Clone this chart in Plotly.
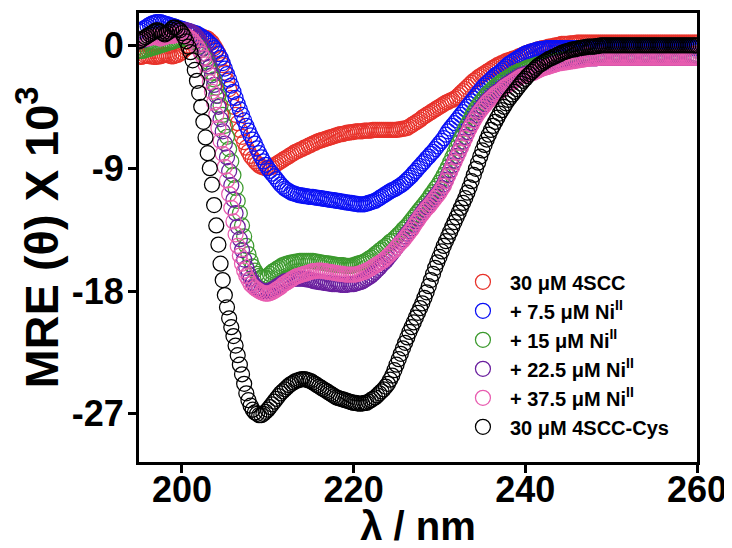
import plotly.graph_objects as go

# ---------------- data ----------------
# wavelength grid: 195.00 ... 260.00 nm in 0.25 nm steps (261 points)
wavelength_nm = [195.0 + 0.25 * i for i in range(261)]

mre_4scc = [
    -0.8, -0.85, -0.8, -0.75, -0.75, -0.8, -0.8, -0.85, -0.85, -0.8, -0.8, -0.75, -0.7, -0.7, -0.75, -0.8, -0.8, -0.75, -0.7, -0.6,
    -0.5, -0.35, -0.2, 0.0, 0.2, 0.35, 0.5, 0.55, 0.6, 0.65, 0.6, 0.55, 0.5, 0.35, 0.2, -0.05, -0.3, -0.6, -1.0, -1.45,
    -2.0, -2.6, -3.2, -3.85, -4.5, -5.1, -5.7, -6.2, -6.7, -7.1, -7.5, -7.8, -8.1, -8.3, -8.5, -8.65, -8.8, -8.9, -8.95, -9.0,
    -9.0, -8.95, -8.9, -8.8, -8.7, -8.6, -8.5, -8.4, -8.3, -8.2, -8.1, -8.0, -7.9, -7.8, -7.75, -7.65, -7.6, -7.5, -7.45, -7.35,
    -7.3, -7.2, -7.15, -7.05, -7.0, -6.95, -6.9, -6.85, -6.8, -6.75, -6.7, -6.65, -6.6, -6.55, -6.5, -6.5, -6.45, -6.4, -6.4, -6.35,
    -6.35, -6.3, -6.3, -6.3, -6.3, -6.25, -6.25, -6.25, -6.25, -6.2, -6.2, -6.2, -6.2, -6.2, -6.2, -6.2, -6.2, -6.2, -6.2, -6.2,
    -6.2, -6.15, -6.15, -6.1, -6.1, -6.05, -5.95, -5.85, -5.75, -5.65, -5.55, -5.45, -5.3, -5.2, -5.1, -5.0, -4.9, -4.8, -4.7, -4.6,
    -4.5, -4.4, -4.3, -4.2, -4.15, -4.05, -4.0, -3.9, -3.8, -3.65, -3.5, -3.35, -3.2, -3.05, -2.9, -2.75, -2.6, -2.5, -2.35, -2.25,
    -2.15, -2.05, -1.95, -1.85, -1.75, -1.65, -1.55, -1.45, -1.4, -1.3, -1.25, -1.15, -1.1, -1.05, -1.0, -0.95, -0.9, -0.8, -0.75, -0.7,
    -0.6, -0.55, -0.5, -0.45, -0.4, -0.35, -0.3, -0.25, -0.2, -0.2, -0.15, -0.1, -0.1, -0.05, 0.0, 0.0, 0.05, 0.1, 0.1, 0.1,
    0.1, 0.15, 0.15, 0.15, 0.2, 0.2, 0.2, 0.2, 0.2, 0.2, 0.2, 0.2, 0.2, 0.2, 0.2, 0.2, 0.2, 0.2, 0.2, 0.2,
    0.2, 0.2, 0.2, 0.2, 0.2, 0.2, 0.2, 0.2, 0.2, 0.2, 0.2, 0.2, 0.2, 0.2, 0.2, 0.2, 0.2, 0.2, 0.2, 0.2,
    0.2, 0.2, 0.2, 0.2, 0.2, 0.2, 0.2, 0.2, 0.2, 0.2, 0.2, 0.2, 0.2, 0.2, 0.2, 0.2, 0.2, 0.2, 0.2, 0.2,
    0.2,
]

mre_ni_7_5 = [
    1.0, 1.1, 1.2, 1.3, 1.4, 1.5, 1.6, 1.65, 1.7, 1.7, 1.7, 1.65, 1.6, 1.55, 1.5, 1.45, 1.4, 1.35, 1.3, 1.25,
    1.2, 1.15, 1.1, 1.05, 1.0, 0.95, 0.9, 0.85, 0.75, 0.65, 0.55, 0.45, 0.3, 0.15, 0.0, -0.2, -0.4, -0.65, -0.9, -1.3,
    -1.7, -2.1, -2.5, -2.95, -3.4, -3.85, -4.3, -4.7, -5.1, -5.5, -5.9, -6.25, -6.6, -6.9, -7.2, -7.55, -7.9, -8.2, -8.5, -8.75,
    -9.0, -9.2, -9.4, -9.6, -9.8, -10.0, -10.2, -10.35, -10.5, -10.6, -10.7, -10.8, -10.85, -10.9, -10.95, -11.0, -11.0, -11.05, -11.05, -11.1,
    -11.1, -11.1, -11.15, -11.15, -11.2, -11.2, -11.25, -11.25, -11.3, -11.3, -11.35, -11.35, -11.4, -11.4, -11.45, -11.45, -11.5, -11.5, -11.55, -11.55,
    -11.6, -11.6, -11.65, -11.65, -11.65, -11.65, -11.6, -11.55, -11.5, -11.45, -11.4, -11.3, -11.2, -11.1, -11.0, -10.9, -10.8, -10.7, -10.6, -10.55,
    -10.45, -10.35, -10.25, -10.15, -10.0, -9.85, -9.7, -9.55, -9.35, -9.2, -9.0, -8.85, -8.65, -8.5, -8.3, -8.15, -7.95, -7.8, -7.6, -7.4,
    -7.2, -7.0, -6.8, -6.55, -6.3, -6.1, -5.9, -5.7, -5.5, -5.3, -5.1, -4.9, -4.7, -4.5, -4.3, -4.1, -3.9, -3.7, -3.5, -3.3,
    -3.1, -2.95, -2.8, -2.65, -2.5, -2.35, -2.2, -2.1, -2.0, -1.85, -1.7, -1.55, -1.4, -1.3, -1.2, -1.1, -1.0, -0.9, -0.8, -0.7,
    -0.6, -0.55, -0.5, -0.45, -0.4, -0.35, -0.3, -0.3, -0.25, -0.25, -0.2, -0.2, -0.2, -0.2, -0.2, -0.2, -0.2, -0.2, -0.2, -0.2,
    -0.2, -0.2, -0.2, -0.2, -0.2, -0.2, -0.2, -0.2, -0.2, -0.2, -0.2, -0.2, -0.2, -0.2, -0.2, -0.2, -0.2, -0.2, -0.2, -0.2,
    -0.2, -0.2, -0.2, -0.2, -0.2, -0.2, -0.2, -0.2, -0.2, -0.2, -0.2, -0.2, -0.2, -0.2, -0.2, -0.2, -0.2, -0.2, -0.2, -0.2,
    -0.2, -0.2, -0.2, -0.2, -0.2, -0.2, -0.2, -0.2, -0.2, -0.2, -0.2, -0.2, -0.2, -0.2, -0.2, -0.2, -0.2, -0.2, -0.2, -0.2,
    -0.2,
]

mre_ni_15 = [
    -0.4, -0.4, -0.4, -0.35, -0.3, -0.25, -0.2, -0.15, -0.1, -0.05, 0.0, 0.05, 0.1, 0.15, 0.2, 0.25, 0.3, 0.35, 0.4, 0.45,
    0.5, 0.5, 0.5, 0.45, 0.4, 0.3, 0.2, 0.05, -0.1, -0.35, -0.6, -0.9, -1.2, -1.6, -2.0, -2.5, -3.1, -3.7, -4.4, -5.1,
    -5.9, -6.7, -7.6, -8.5, -9.5, -10.45, -11.4, -12.3, -13.2, -14.0, -14.7, -15.3, -15.8, -16.2, -16.5, -16.75, -16.9, -17.0, -17.0, -17.0,
    -16.9, -16.75, -16.6, -16.5, -16.4, -16.3, -16.2, -16.1, -16.05, -16.0, -15.95, -15.9, -15.9, -15.85, -15.85, -15.8, -15.8, -15.8, -15.8, -15.8,
    -15.8, -15.8, -15.85, -15.85, -15.9, -15.9, -15.95, -15.95, -16.0, -16.0, -16.05, -16.05, -16.1, -16.1, -16.1, -16.1, -16.15, -16.15, -16.15, -16.15,
    -16.1, -16.05, -16.0, -15.95, -15.9, -15.85, -15.75, -15.65, -15.55, -15.45, -15.3, -15.2, -15.05, -14.95, -14.8, -14.7, -14.55, -14.4, -14.3, -14.15,
    -14.0, -13.85, -13.7, -13.5, -13.35, -13.2, -13.0, -12.8, -12.6, -12.4, -12.2, -12.0, -11.8, -11.6, -11.4, -11.2, -10.95, -10.75, -10.5, -10.3,
    -10.05, -9.8, -9.5, -9.2, -8.9, -8.55, -8.2, -7.85, -7.5, -7.15, -6.8, -6.45, -6.1, -5.8, -5.5, -5.2, -4.9, -4.65, -4.4, -4.2,
    -4.0, -3.8, -3.6, -3.45, -3.3, -3.15, -3.0, -2.9, -2.8, -2.65, -2.55, -2.45, -2.35, -2.25, -2.15, -2.05, -2.0, -1.9, -1.85, -1.8,
    -1.7, -1.65, -1.6, -1.55, -1.5, -1.45, -1.4, -1.35, -1.3, -1.3, -1.25, -1.25, -1.2, -1.2, -1.15, -1.15, -1.1, -1.1, -1.05, -1.05,
    -1.0, -1.0, -1.0, -1.0, -0.95, -0.95, -0.95, -0.95, -0.9, -0.9, -0.9, -0.9, -0.9, -0.9, -0.9, -0.9, -0.9, -0.9, -0.9, -0.9,
    -0.9, -0.9, -0.9, -0.9, -0.9, -0.9, -0.9, -0.9, -0.9, -0.9, -0.9, -0.9, -0.9, -0.9, -0.9, -0.9, -0.9, -0.9, -0.9, -0.9,
    -0.9, -0.9, -0.9, -0.9, -0.9, -0.9, -0.9, -0.9, -0.9, -0.9, -0.9, -0.9, -0.9, -0.9, -0.9, -0.9, -0.9, -0.9, -0.9, -0.9,
    -0.9,
]

mre_ni_22_5 = [
    0.3, 0.35, 0.4, 0.45, 0.5, 0.55, 0.6, 0.65, 0.7, 0.75, 0.8, 0.8, 0.8, 0.85, 0.9, 0.95, 1.0, 1.05, 1.1, 1.1,
    1.1, 1.1, 1.1, 1.05, 1.0, 0.9, 0.8, 0.6, 0.4, 0.1, -0.2, -0.6, -1.0, -1.55, -2.2, -2.9, -3.7, -4.5, -5.4, -6.3,
    -7.2, -8.2, -9.2, -10.25, -11.3, -12.3, -13.3, -14.2, -15.0, -15.7, -16.3, -16.75, -17.1, -17.4, -17.6, -17.75, -17.9, -17.95, -18.0, -18.0,
    -18.0, -17.95, -17.9, -17.8, -17.7, -17.6, -17.5, -17.4, -17.3, -17.25, -17.2, -17.15, -17.1, -17.1, -17.1, -17.1, -17.1, -17.1, -17.15, -17.15,
    -17.2, -17.25, -17.3, -17.3, -17.35, -17.35, -17.4, -17.4, -17.45, -17.45, -17.5, -17.5, -17.5, -17.5, -17.55, -17.55, -17.55, -17.55, -17.5, -17.5,
    -17.5, -17.45, -17.4, -17.35, -17.3, -17.2, -17.1, -17.0, -16.9, -16.75, -16.6, -16.45, -16.3, -16.1, -15.95, -15.8, -15.6, -15.4, -15.2, -15.0,
    -14.8, -14.6, -14.4, -14.2, -14.0, -13.8, -13.6, -13.4, -13.15, -12.9, -12.7, -12.5, -12.25, -12.05, -11.85, -11.7, -11.5, -11.3, -11.1, -10.9,
    -10.7, -10.45, -10.2, -9.85, -9.5, -9.15, -8.8, -8.45, -8.1, -7.75, -7.4, -7.05, -6.7, -6.35, -6.0, -5.7, -5.4, -5.15, -4.9, -4.7,
    -4.5, -4.3, -4.1, -3.95, -3.8, -3.65, -3.5, -3.4, -3.3, -3.15, -3.0, -2.9, -2.8, -2.7, -2.6, -2.5, -2.4, -2.3, -2.2, -2.15,
    -2.1, -2.05, -2.0, -1.95, -1.9, -1.8, -1.75, -1.65, -1.6, -1.55, -1.5, -1.45, -1.4, -1.35, -1.3, -1.25, -1.2, -1.2, -1.15, -1.1,
    -1.1, -1.1, -1.05, -1.05, -1.0, -1.0, -1.0, -1.0, -0.95, -0.95, -0.95, -0.95, -0.95, -0.95, -0.9, -0.9, -0.9, -0.9, -0.9, -0.9,
    -0.9, -0.9, -0.9, -0.9, -0.9, -0.9, -0.9, -0.9, -0.9, -0.9, -0.9, -0.9, -0.9, -0.9, -0.9, -0.9, -0.9, -0.9, -0.9, -0.9,
    -0.9, -0.9, -0.9, -0.9, -0.9, -0.9, -0.9, -0.9, -0.9, -0.9, -0.9, -0.9, -0.9, -0.9, -0.9, -0.9, -0.9, -0.9, -0.9, -0.9,
    -0.9,
]

mre_ni_37_5 = [
    0.4, 0.45, 0.5, 0.5, 0.5, 0.55, 0.6, 0.6, 0.6, 0.55, 0.5, 0.55, 0.6, 0.65, 0.7, 0.7, 0.7, 0.75, 0.8, 0.8,
    0.8, 0.75, 0.7, 0.6, 0.5, 0.35, 0.15, -0.05, -0.3, -0.6, -0.9, -1.4, -2.0, -2.7, -3.4, -4.2, -5.1, -6.05, -7.0, -7.95,
    -8.9, -9.9, -10.9, -11.9, -12.9, -13.85, -14.7, -15.4, -16.0, -16.5, -16.9, -17.2, -17.5, -17.65, -17.8, -17.9, -18.0, -18.1, -18.15, -18.2,
    -18.2, -18.15, -18.1, -18.0, -17.9, -17.8, -17.7, -17.55, -17.45, -17.35, -17.25, -17.15, -17.05, -16.95, -16.9, -16.85, -16.8, -16.75, -16.7, -16.65,
    -16.6, -16.55, -16.55, -16.5, -16.5, -16.5, -16.55, -16.55, -16.6, -16.6, -16.65, -16.65, -16.7, -16.7, -16.75, -16.75, -16.8, -16.8, -16.8, -16.8,
    -16.8, -16.8, -16.75, -16.7, -16.65, -16.6, -16.5, -16.45, -16.35, -16.25, -16.15, -16.05, -15.95, -15.85, -15.75, -15.6, -15.45, -15.3, -15.15, -15.0,
    -14.8, -14.6, -14.45, -14.3, -14.1, -13.9, -13.7, -13.5, -13.25, -13.0, -12.8, -12.55, -12.35, -12.15, -11.95, -11.8, -11.6, -11.4, -11.2, -11.0,
    -10.8, -10.55, -10.3, -9.95, -9.6, -9.25, -8.9, -8.55, -8.2, -7.85, -7.5, -7.15, -6.8, -6.45, -6.1, -5.8, -5.5, -5.25, -5.0, -4.8,
    -4.6, -4.4, -4.2, -4.05, -3.9, -3.75, -3.6, -3.5, -3.4, -3.25, -3.1, -3.0, -2.9, -2.8, -2.7, -2.6, -2.5, -2.4, -2.3, -2.25,
    -2.2, -2.15, -2.1, -2.05, -2.0, -1.9, -1.85, -1.75, -1.7, -1.65, -1.6, -1.55, -1.5, -1.45, -1.4, -1.35, -1.3, -1.3, -1.25, -1.25,
    -1.2, -1.2, -1.15, -1.15, -1.1, -1.1, -1.05, -1.05, -1.0, -1.0, -0.95, -0.95, -0.95, -0.95, -0.9, -0.9, -0.9, -0.9, -0.9, -0.9,
    -0.9, -0.9, -0.9, -0.9, -0.9, -0.9, -0.9, -0.9, -0.9, -0.9, -0.9, -0.9, -0.9, -0.9, -0.9, -0.9, -0.9, -0.9, -0.9, -0.9,
    -0.9, -0.9, -0.9, -0.9, -0.9, -0.9, -0.9, -0.9, -0.9, -0.9, -0.9, -0.9, -0.9, -0.9, -0.9, -0.9, -0.9, -0.9, -0.9, -0.9,
    -0.9,
]

mre_4scc_cys = [
    0.3, 0.4, 0.5, 0.6, 0.7, 0.8, 0.9, 1.0, 1.1, 1.1, 1.0, 0.9, 0.8, 0.9, 1.0, 1.15, 1.3, 1.3, 1.2, 1.1,
    0.9, 0.65, 0.3, -0.1, -0.5, -1.1, -1.8, -2.6, -3.5, -4.5, -5.6, -6.75, -7.9, -9.0, -10.2, -11.7, -13.2, -14.6, -16.0, -17.2,
    -18.3, -19.2, -20.0, -20.65, -21.3, -22.0, -22.7, -23.4, -24.1, -24.8, -25.5, -26.0, -26.4, -26.7, -26.9, -27.0, -27.1, -27.1, -27.0, -26.85,
    -26.7, -26.5, -26.3, -26.1, -25.9, -25.7, -25.5, -25.35, -25.2, -25.05, -24.9, -24.8, -24.7, -24.6, -24.55, -24.5, -24.45, -24.45, -24.5, -24.55,
    -24.6, -24.7, -24.8, -24.9, -25.0, -25.1, -25.2, -25.3, -25.4, -25.5, -25.6, -25.7, -25.8, -25.85, -25.9, -25.95, -26.0, -26.05, -26.1, -26.15,
    -26.2, -26.2, -26.25, -26.25, -26.25, -26.2, -26.2, -26.1, -26.0, -25.9, -25.8, -25.65, -25.5, -25.35, -25.2, -25.0, -24.8, -24.5, -24.2, -23.8,
    -23.4, -23.0, -22.6, -22.2, -21.8, -21.4, -21.0, -20.65, -20.3, -19.95, -19.6, -19.25, -18.9, -18.5, -18.1, -17.65, -17.2, -16.75, -16.3, -15.9,
    -15.5, -15.1, -14.7, -14.35, -14.0, -13.65, -13.3, -12.95, -12.6, -12.25, -11.9, -11.55, -11.2, -10.8, -10.4, -9.95, -9.5, -9.05, -8.6, -8.15,
    -7.7, -7.3, -6.9, -6.55, -6.2, -5.9, -5.6, -5.3, -5.0, -4.75, -4.5, -4.25, -4.0, -3.8, -3.6, -3.4, -3.2, -3.0, -2.8, -2.6,
    -2.45, -2.25, -2.1, -1.95, -1.8, -1.65, -1.5, -1.4, -1.3, -1.2, -1.1, -1.0, -0.95, -0.85, -0.8, -0.7, -0.65, -0.55, -0.5, -0.45,
    -0.4, -0.35, -0.3, -0.3, -0.25, -0.2, -0.2, -0.15, -0.15, -0.1, -0.1, -0.1, -0.1, -0.05, -0.05, 0.0, 0.0, 0.0, 0.0, 0.0,
    0.0, 0.0, 0.0, 0.0, 0.0, 0.0, 0.0, 0.0, 0.0, 0.0, 0.0, 0.0, 0.0, 0.0, 0.0, 0.0, 0.0, 0.0, 0.0, 0.0,
    0.0, 0.0, 0.0, 0.0, 0.0, 0.0, 0.0, 0.0, 0.0, 0.0, 0.0, 0.0, 0.0, 0.0, 0.0, 0.0, 0.0, 0.0, 0.0, 0.0,
    0.0,
]

series_values = [mre_4scc, mre_ni_7_5, mre_ni_15, mre_ni_22_5, mre_ni_37_5, mre_4scc_cys]
series_names = [
    "30 μM 4SCC",
    "+ 7.5 μM Ni<sup>II</sup>",
    "+ 15 μM Ni<sup>II</sup>",
    "+ 22.5 μM Ni<sup>II</sup>",
    "+ 37.5 μM Ni<sup>II</sup>",
    "30 μM 4SCC-Cys",
]
series_colors = ["#E8322A", "#0A10F5", "#3C9A2E", "#6A1F9E", "#E85DB0", "#000000"]

x_tick_vals = [200, 220, 240, 260]
x_tick_text = ["200", "220", "240", "260"]
y_tick_vals = [0, -9, -18, -27]
y_tick_text = ["0", "-9", "-18", "-27"]

for vals in series_values:
    assert len(vals) == len(wavelength_nm), len(vals)

# ---------------- figure ----------------
FONT = "Liberation Sans, Arial, Helvetica, sans-serif"

fig = go.Figure()
for name, vals, color in zip(series_names, series_values, series_colors):
    fig.add_trace(go.Scatter(
        x=wavelength_nm, y=vals, mode="markers", name=name,
        marker=dict(symbol="circle-open", size=15, color=color,
                    line=dict(width=1.25, color=color)),
    ))

# the page body adds an 8 px offset, so the figure is 8 px smaller than the window
fig.update_layout(
    template="none",
    width=724, height=540,
    margin=dict(l=131, r=35, t=5, b=86, autoexpand=False),
    paper_bgcolor="white", plot_bgcolor="white",
    font=dict(family=FONT, color="black", weight="bold"),
    showlegend=True,
    legend=dict(x=0.568, xanchor="left", y=0.035, yanchor="bottom",
                itemwidth=44,
                font=dict(family=FONT, size=20, color="black", weight="bold"),
                bgcolor="rgba(0,0,0,0)", borderwidth=0),
)

axis_common = dict(
    showline=True, linewidth=3, linecolor="black", mirror=True,
    ticks="outside", ticklen=8, tickwidth=3, tickcolor="black",
    showgrid=False, zeroline=False, automargin=False,
    tickfont=dict(family=FONT, size=36, color="black", weight="bold"),
)

fig.update_xaxes(
    range=[195, 260], tickmode="array", tickvals=x_tick_vals, ticktext=x_tick_text,
    ticklabelstandoff=-14,
    title=dict(text="λ / nm", font=dict(family=FONT, size=40, color="black", weight="bold"), standoff=2),
    **axis_common,
)
fig.update_yaxes(
    range=[-30.53, 2.37], tickmode="array", tickvals=y_tick_vals, ticktext=y_tick_text,
    ticklabelstandoff=-3,
    title=dict(text="MRE (θ) X 10<sup>3</sup>", font=dict(family=FONT, size=47, color="black", weight="bold"), standoff=0),
    **axis_common,
)

fig.write_html("out.html")
